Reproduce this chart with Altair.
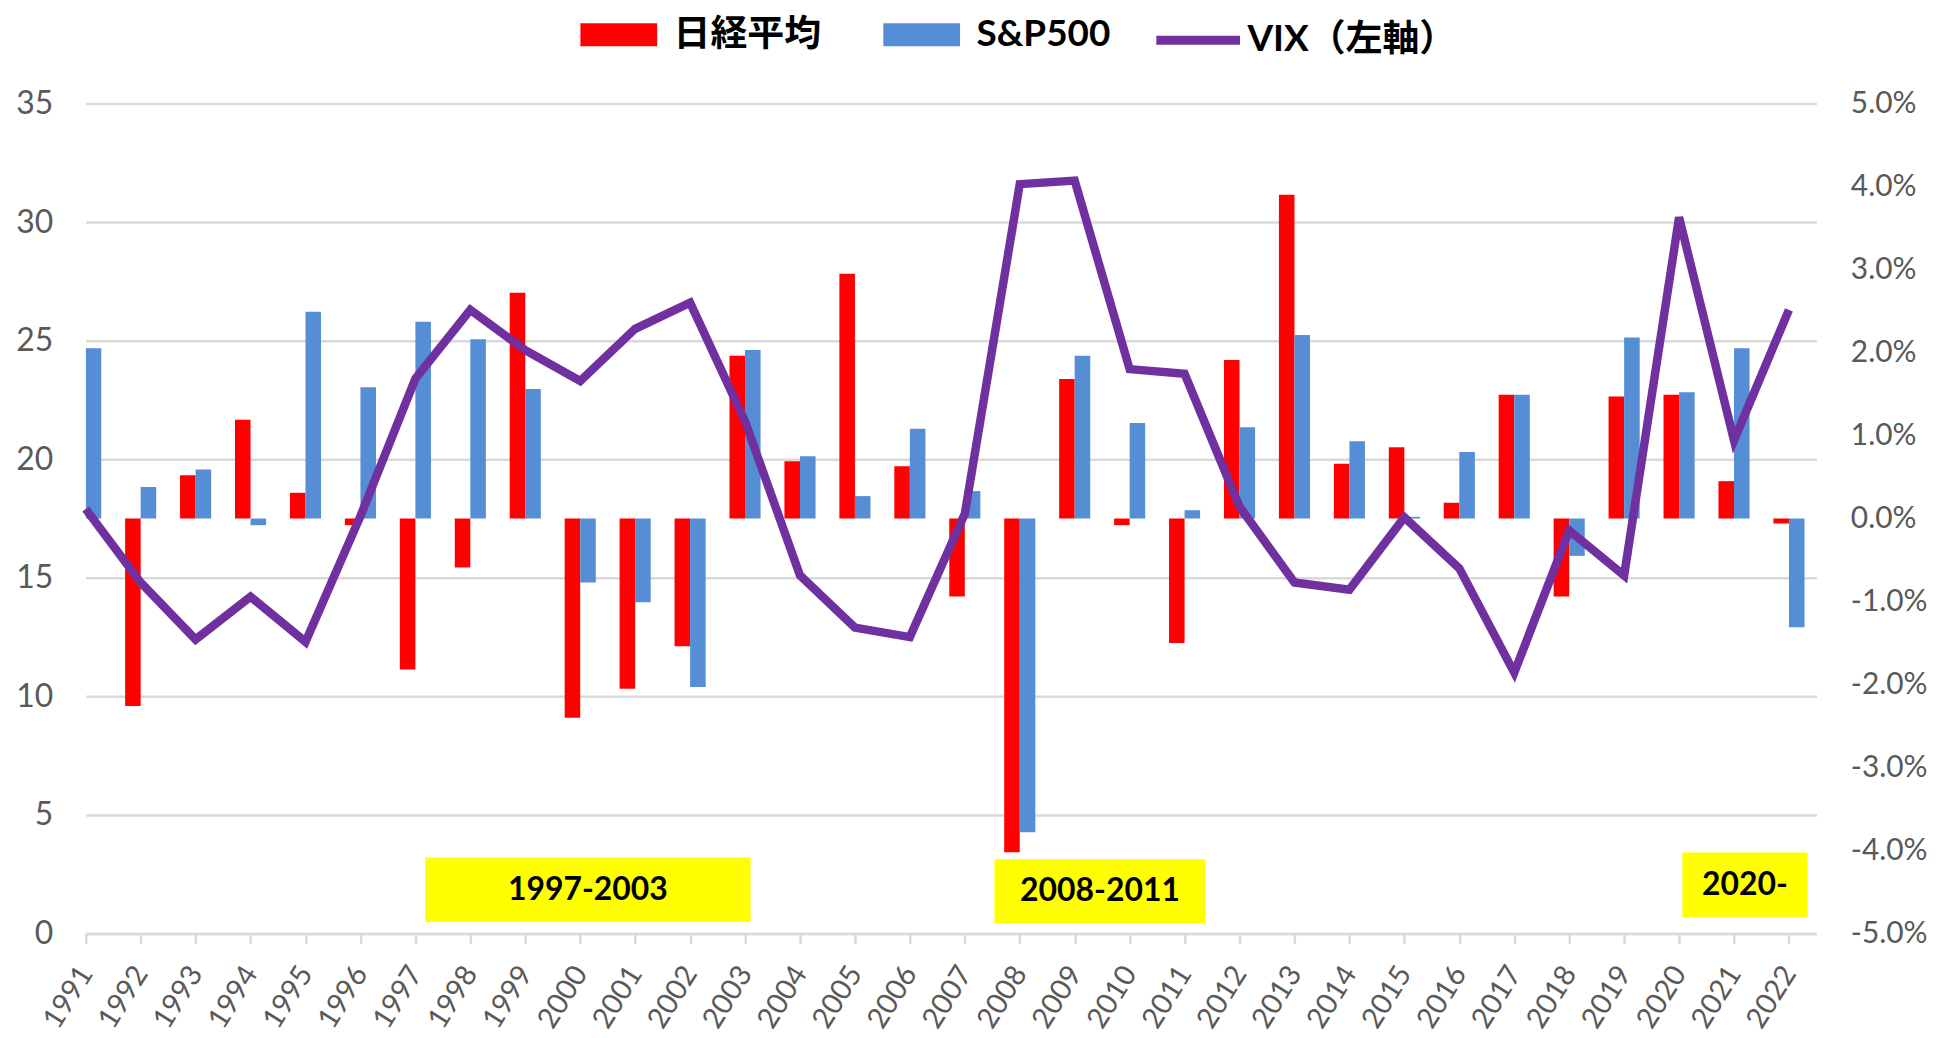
import altair as alt
import pandas as pd

# ---------------- data ----------------
years = list(range(1991, 2023))

# annual return (%) -- right axis
nikkei = [-0.08, -2.26, 0.52, 1.19, 0.31, -0.08, -1.82, -0.59, 2.72, -2.40,
          -2.05, -1.54, 1.96, 0.69, 2.95, 0.63, -0.94, -4.02, 1.68, -0.08,
          -1.50, 1.91, 3.90, 0.66, 0.86, 0.19, 1.49, -0.94, 1.47, 1.49,
          0.45, -0.06]
sp500 = [2.05, 0.38, 0.59, -0.08, 2.49, 1.58, 2.37, 2.16, 1.56, -0.77,
         -1.01, -2.03, 2.03, 0.75, 0.27, 1.08, 0.33, -3.78, 1.96, 1.15,
         0.10, 1.10, 2.21, 0.93, 0.02, 0.80, 1.49, -0.45, 2.18, 1.52,
         2.05, -1.31]
# VIX -- left axis
vix = [17.9, 14.8, 12.4, 14.2, 12.3, 17.6, 23.4, 26.3, 24.6, 23.3,
       25.5, 26.6, 21.6, 15.1, 12.9, 12.5, 17.7, 31.6, 31.75, 23.8,
       23.6, 18.0, 14.8, 14.5, 17.55, 15.4, 11.0, 17.0, 15.1, 30.2,
       20.8, 26.3]

series_names = ["日経平均", "S&P500"]
series_colors = ["#FF0000", "#558ED5"]
vix_name = "VIX（左軸）"
vix_color = "#7030A0"

# highlighted periods (annotation boxes, in year / VIX units)
ann_labels = ["1997-2003", "2008-2011", "2020-"]
ann_start = [1997.18, 2007.54, 2020.06]
ann_end = [2003.10, 2011.38, 2022.34]
ann_low = [0.48, 0.42, 0.70]
ann_high = [3.21, 3.13, 3.42]

left_ticks = [0, 5, 10, 15, 20, 25, 30, 35]
right_ticks = [-0.05, -0.04, -0.03, -0.02, -0.01, 0.0, 0.01, 0.02, 0.03, 0.04, 0.05]

# ---------------- frames ----------------
bars_df = pd.DataFrame({
    "year": years * 2,
    "series": [series_names[0]] * len(years) + [series_names[1]] * len(years),
    "value": [v / 100 for v in nikkei + sp500],
})
line_df = pd.DataFrame({"year": years, "vix": vix})
ann_df = pd.DataFrame({"label": ann_labels, "x0": ann_start, "x1": ann_end,
                       "y0": ann_low, "y1": ann_high})

BAR_W = 0.283
FONT = "Lato, Noto Sans CJK JP, sans-serif"
GRAY = "#595959"
GRID = "#d9d9d9"

xscale = alt.Scale(domain=[1991, 2022.5], nice=False, zero=False)
vixscale = alt.Scale(domain=[0, 35], nice=False, zero=False)

xaxis = alt.Axis(values=years, format="d", labelAngle=-58, labelFont=FONT,
                 labelFontSize=29, labelColor=GRAY, labelPadding=25,
                 labelOverlap=False, labelFlush=False, grid=False,
                 ticks=True, tickSize=10, tickColor=GRID, tickWidth=2.5,
                 domain=True, domainColor=GRID, domainWidth=2.5, title=None)

leftaxis = alt.Axis(orient="left", values=left_ticks, grid=True,
                    gridColor=GRID, gridWidth=2.5, ticks=False,
                    domain=False, labelPadding=33, labelFont=FONT,
                    labelFontSize=32, labelColor=GRAY, title=None)

bars = alt.Chart(bars_df).transform_calculate(
    bx0=f"datum.year + (datum.series === '{series_names[0]}' ? {-BAR_W} : 0)",
    bx1=f"datum.year + (datum.series === '{series_names[0]}' ? 0 : {BAR_W})",
).mark_bar(clip=True).encode(
    x=alt.X("bx0:Q", scale=xscale, axis=xaxis),
    x2="bx1:Q",
    y=alt.Y("value:Q",
            scale=alt.Scale(domain=[-0.05, 0.05], nice=False, zero=False),
            axis=alt.Axis(orient="right", values=right_ticks,
                          labelExpr="replace(format(datum.value, '.1%'), '−', '-')",
                          grid=False, ticks=False, domain=False,
                          labelPadding=34, labelFont=FONT, labelFontSize=30,
                          labelColor=GRAY, title=None)),
    y2=alt.datum(0),
    color=alt.Color("series:N",
                    scale=alt.Scale(domain=series_names, range=series_colors),
                    legend=alt.Legend(orient="none", legendX=512, legendY=-92,
                                      direction="horizontal", title=None,
                                      symbolType="M-1.674,-0.5H1.674V0.5H-1.674Z",
                                      symbolSize=2116, symbolStrokeWidth=0,
                                      symbolOpacity=1,
                                      labelFont=FONT, labelFontSize=37,
                                      labelFontWeight="bold", labelColor="black",
                                      labelOffset=32, columnPadding=62,
                                      labelLimit=0, padding=0)),
)

line = alt.Chart(line_df).transform_calculate(
    name=f"'{vix_name}'"
).mark_line(strokeWidth=8.5).encode(
    x=alt.X("year:Q", scale=xscale, axis=xaxis),
    y=alt.Y("vix:Q", scale=vixscale, axis=leftaxis),
    stroke=alt.Stroke("name:N",
                      scale=alt.Scale(domain=[vix_name], range=[vix_color]),
                      legend=alt.Legend(orient="none", legendX=1070, legendY=-110,
                                        title=None, symbolType="stroke",
                                        symbolSize=7056, symbolStrokeWidth=9,
                                        labelFont=FONT, labelFontSize=37,
                                        labelFontWeight="bold", labelColor="black",
                                        labelOffset=3, labelLimit=0, padding=0)),
)

rects = alt.Chart(ann_df).mark_rect(color="#FFFF00").encode(
    x=alt.X("x0:Q", scale=xscale, axis=xaxis),
    x2="x1:Q",
    y=alt.Y("y0:Q", scale=vixscale, axis=leftaxis),
    y2="y1:Q",
)

texts = alt.Chart(ann_df).transform_calculate(
    xc="(datum.x0 + datum.x1) / 2",
    yc="(datum.y0 + datum.y1) / 2",
).mark_text(font=FONT, fontSize=32, fontWeight="bold", color="black",
            align="center", baseline="middle").encode(
    x=alt.X("xc:Q", scale=xscale, axis=xaxis),
    y=alt.Y("yc:Q", scale=vixscale, axis=leftaxis),
    text="label:N",
)

left_layer = alt.layer(line, rects, texts)

chart = alt.layer(bars, left_layer).resolve_scale(
    y="independent"
).properties(
    width=1737, height=833,
    background="white",
    autosize=alt.AutoSizeParams(type="none"),
    padding={"left": 78, "top": 94, "right": 118, "bottom": 100},
).configure_view(stroke=None)

chart.save("out.html", embed_options={"renderer": "svg", "actions": False})
